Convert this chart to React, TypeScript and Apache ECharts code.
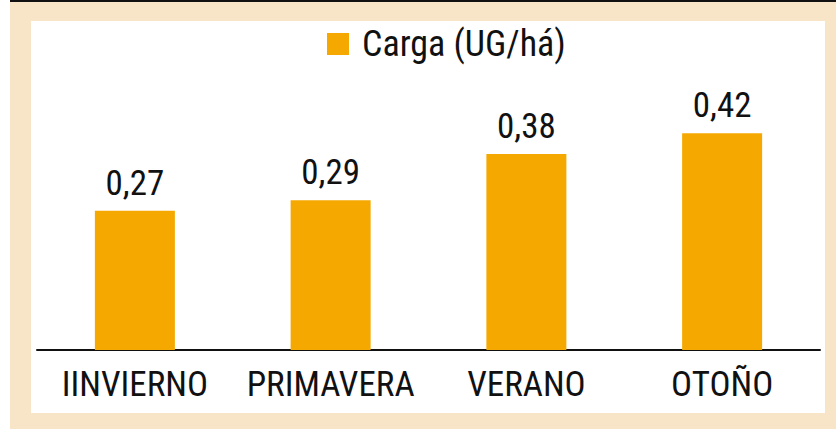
import React, { useEffect, useRef } from "react";
import * as echarts from "echarts";

const categories = ["IINVIERNO", "PRIMAVERA", "VERANO", "OTOÑO"];
const cargaValues = [0.27, 0.29, 0.38, 0.42];
const seriesName = "Carga (UG/há)";

const FONT = "'Roboto Condensed', 'Liberation Sans Narrow', 'DejaVu Sans Condensed', sans-serif";
const ORANGE = "#F5A800";
const BEIGE = "#F8E4C7";

export default function App() {
  const ref = useRef<HTMLDivElement>(null);
  useEffect(() => {
    if (!ref.current) return;
    const chart = echarts.init(ref.current, null, { renderer: "svg" });
    chart.setOption({
      animation: false,
      backgroundColor: "#ffffff",
      graphic: [
        { type: "rect", z: -10, silent: true, shape: { x: 10, y: 0, width: 826, height: 429 }, style: { fill: BEIGE } },
        { type: "rect", z: -9, silent: true, shape: { x: 10, y: 0, width: 826, height: 2 }, style: { fill: "#111" } },
        { type: "rect", z: -9, silent: true, shape: { x: 31, y: 21, width: 794, height: 392 }, style: { fill: "#ffffff" } },
      ],
      legend: {
        top: 26,
        left: 327,
        padding: 0,
        itemWidth: 22,
        itemHeight: 22,
        icon: "rect",
        textStyle: { fontFamily: FONT, fontSize: 36, color: "#111", padding: [0, 0, 0, 8] },
        data: [seriesName],
      },
      grid: { left: 37, right: 16, top: 92, bottom: 79, containLabel: false },
      xAxis: {
        type: "category",
        data: categories,
        axisLine: { lineStyle: { color: "#111", width: 2 } },
        axisTick: { show: false },
        axisLabel: { interval: 0, hideOverlap: false, fontFamily: FONT, fontSize: 35, color: "#111", margin: 17 },
      },
      yAxis: {
        type: "value",
        min: 0,
        max: 0.5,
        show: false,
        splitLine: { show: false },
      },
      series: [
        {
          name: seriesName,
          type: "bar",
          data: cargaValues,
          barWidth: 80,
          itemStyle: { color: ORANGE },
          label: {
            show: true,
            position: "top",
            distance: 10,
            fontFamily: FONT,
            fontSize: 35,
            color: "#111",
            formatter: (p: any) => p.value.toFixed(2).replace(".", ","),
          },
        },
      ],
    });
    return () => chart.dispose();
  }, []);
  return (
    <div style={{ position: "fixed", left: 0, top: 0, width: 836, height: 429 }}>
      <div ref={ref} style={{ width: 836, height: 429 }} />
    </div>
  );
}
